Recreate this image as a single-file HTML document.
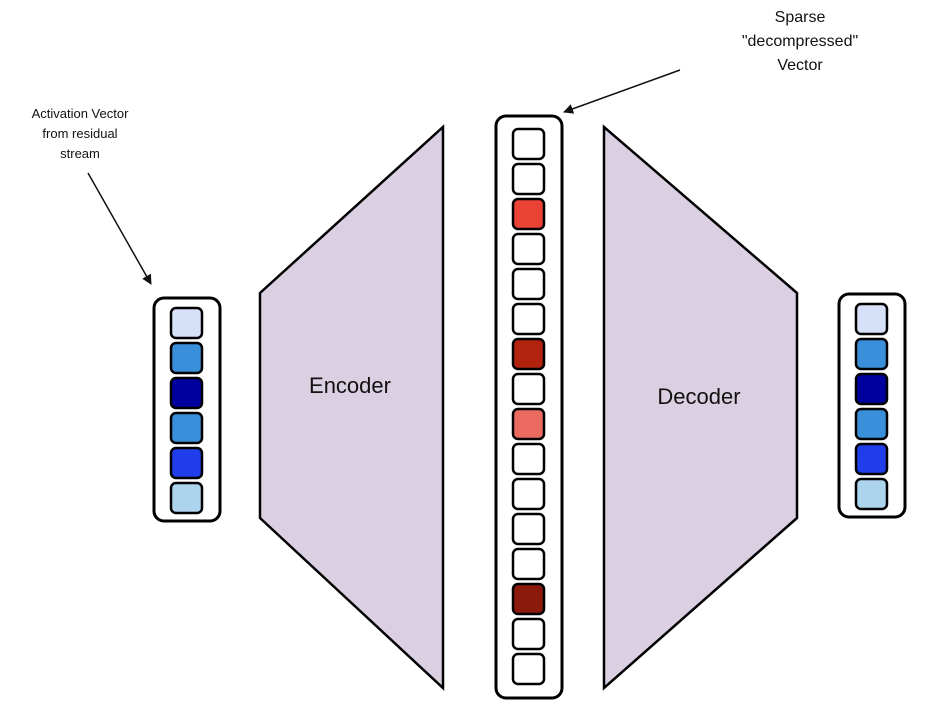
<!DOCTYPE html>
<html><head><meta charset="utf-8"><style>
body{margin:0;background:#fff;}
svg{display:block;font-family:"Liberation Sans",sans-serif;}
</style></head><body>
<svg width="947" height="726" viewBox="0 0 947 726">
<defs><marker id="ah" markerWidth="10" markerHeight="10" refX="9" refY="5" orient="auto" markerUnits="userSpaceOnUse"><path d="M0,0 L10,5 L0,10 z" fill="#111"/></marker></defs>
<polygon points="260,293 443,127 443,688 260,518" fill="#dbd0e2" stroke="#000" stroke-width="2.5"/>
<polygon points="604,127 797,293 797,518 604,688" fill="#dbd0e2" stroke="#000" stroke-width="2.5"/>
<text x="350" y="393" font-size="22" text-anchor="middle" fill="#111">Encoder</text>
<text x="699" y="404" font-size="22" text-anchor="middle" fill="#111">Decoder</text>
<g id="inv"></g>
<g id="spv"></g>
<g id="outv"></g>
<text font-size="13" text-anchor="middle" fill="#111"><tspan x="80" y="118">Activation Vector</tspan><tspan x="80" y="138">from residual</tspan><tspan x="80" y="158">stream</tspan></text>
<line x1="88" y1="173" x2="151" y2="284" stroke="#111" stroke-width="1.5" marker-end="url(#ah)"/>
<text font-size="16" text-anchor="middle" fill="#111"><tspan x="800" y="22">Sparse</tspan><tspan x="800" y="46">"decompressed"</tspan><tspan x="800" y="70">Vector</tspan></text>
<line x1="680" y1="70" x2="564" y2="112" stroke="#111" stroke-width="1.5" marker-end="url(#ah)"/>
</svg>
<script>
const blues=["#d6e0f9","#3a8fdb","#00009e","#3a8fdb","#1f3de8","#acd4ec"];
const sparse=["#fff","#fff","#ea4335","#fff","#fff","#fff","#b3220f","#fff","#ea6a60","#fff","#fff","#fff","#fff","#8b1a0c","#fff","#fff"];
const NS="http://www.w3.org/2000/svg";
function vec(id,bx,by,bh,cols,cx,cy){
  const g=document.getElementById(id);
  const r=document.createElementNS(NS,"rect");
  
  
  r.setAttribute("x",bx);r.setAttribute("y",by);r.setAttribute("width",66);r.setAttribute("height",bh);
  r.setAttribute("rx",10);r.setAttribute("fill","#fff");r.setAttribute("stroke","#000");r.setAttribute("stroke-width",3);
  g.appendChild(r);
  cols.forEach((c,i)=>{
    const s=document.createElementNS(NS,"rect");
    
    
    s.setAttribute("x",cx);s.setAttribute("y",cy+i*35);s.setAttribute("width",31);s.setAttribute("height",30);
    s.setAttribute("rx",5);s.setAttribute("fill",c);s.setAttribute("stroke","#000");s.setAttribute("stroke-width",2.5);
    g.appendChild(s);
  });
}
vec("inv",154,298,223,blues,171,308);
vec("spv",496,116,582,sparse,513,129);
vec("outv",839,294,223,blues,856,304);
</script>
</body></html>
